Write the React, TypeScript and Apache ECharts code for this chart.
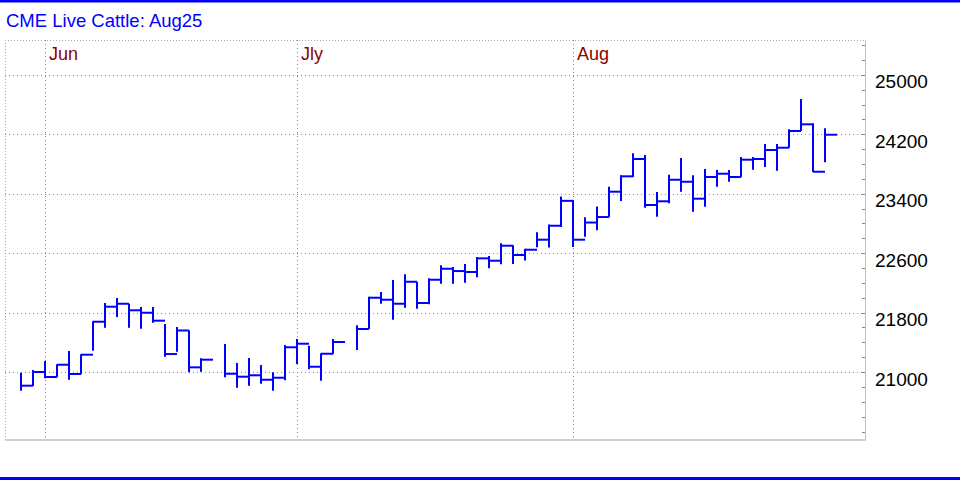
import React, { useEffect, useRef } from "react";
import * as echarts from "echarts";

// Trading-day slots (holidays kept as empty slots)
const dates = [
  "2025-05-28", "2025-05-29", "2025-05-30",
  "2025-06-02", "2025-06-03", "2025-06-04", "2025-06-05", "2025-06-06",
  "2025-06-09", "2025-06-10", "2025-06-11", "2025-06-12", "2025-06-13",
  "2025-06-16", "2025-06-17", "2025-06-18", "2025-06-19", "2025-06-20",
  "2025-06-23", "2025-06-24", "2025-06-25", "2025-06-26", "2025-06-27",
  "2025-06-30", "2025-07-01", "2025-07-02", "2025-07-03", "2025-07-04",
  "2025-07-07", "2025-07-08", "2025-07-09", "2025-07-10", "2025-07-11",
  "2025-07-14", "2025-07-15", "2025-07-16", "2025-07-17", "2025-07-18",
  "2025-07-21", "2025-07-22", "2025-07-23", "2025-07-24", "2025-07-25",
  "2025-07-28", "2025-07-29", "2025-07-30", "2025-07-31", "2025-08-01",
  "2025-08-04", "2025-08-05", "2025-08-06", "2025-08-07", "2025-08-08",
  "2025-08-11", "2025-08-12", "2025-08-13", "2025-08-14", "2025-08-15",
  "2025-08-18", "2025-08-19", "2025-08-20", "2025-08-21", "2025-08-22",
  "2025-08-25", "2025-08-26", "2025-08-27", "2025-08-28", "2025-08-29",
];

const highs = [
  20995, 21031, 21152, 21108, 21287, 21242, 21686, 21933, 22000, 21923,
  21879, 21879, 21650, 21610, 21565, 21188, null, 21381, 21125, 21192,
  21098, 21000, 21367, 21448, 21358, 21256, 21448, null, 21633, 22018,
  22081, 22242, 22319, 22219, 22265, 22440, 22417, 22458, 22552, 22565,
  22736, 22709, 22664, 22886, 22989, 23366, 23319, 23088, 23232, 23498,
  23652, 23948, 23925, 23427, 23660, 23884, 23652, 23736, 23723, 23723,
  23898, 23898, 24073, 24073, 24271, 24679, 24351, 24284,
];

const lows = [
  20752, 20816, 20919, 20933, 20900, 20973, 21291, 21600, 21744, 21600,
  21587, 21668, 21210, 21277, 21000, 21008, null, 20933, 20793, 20820,
  20847, 20752, 20892, 21112, 21040, 20887, 21246, null, 21300, 21583,
  21923, 21708, 21870, 21856, 21915, 22193, 22193, 22206, 22279, 22400,
  22454, 22458, 22505, 22683, 22680, 22956, 22687, 22825, 22911, 23086,
  23306, 23629, 23215, 23094, 23275, 23431, 23162, 23229, 23498, 23565,
  23625, 23727, 23763, 23714, 24023, 24248, 23696, 23827,
];

const closes = [
  20820, 21004, 20937, 21102, 20977, 21237, 21681, 21883, 21923, 21835,
  21802, 21695, 21246, 21563, 21067, 21170, null, 20981, 20941, 20960,
  20900, 20927, 21337, 21385, 21075, 21250, 21408, null, 21583, 22004,
  21977, 21923, 22219, 21933, 22246, 22394, 22363, 22350, 22534, 22502,
  22704, 22579, 22650, 22785, 22973, 23308, 22785, 23016, 23090, 23431,
  23638, 23871, 23252, 23302, 23592, 23565, 23337, 23629, 23673, 23629,
  23862, 23871, 23992, 24023, 24248, 24338, 23700, 24198,
];

// Month separators sit on the last trading slot of the previous month
const monthSlots = [2, 23, 46];
const monthNames = ["Jun", "Jly", "Aug"];

const yLabelValues = [21000, 21800, 22600, 23400, 24200, 25000];
const yMinorTicks = [
  20200, 20400, 20600, 20800, 21000, 21200, 21400, 21600, 21800, 22000,
  22200, 22400, 22600, 22800, 23000, 23200, 23400, 23600, 23800, 24000,
  24200, 24400, 24600, 24800, 25000, 25200, 25400,
];

const Y_MIN = 20089;
const Y_MAX = 25473;
const X_MIN = -4 / 3;
const X_MAX = 211 / 3;

const BLUE = "#0000ff";
const FONT = "'Liberation Sans', Arial, sans-serif";

export default function App() {
  const ref = useRef<HTMLDivElement>(null);

  useEffect(() => {
    if (!ref.current) return;
    const chart = echarts.init(ref.current, null, { renderer: "svg" });

    const data: number[][] = [];
    for (let i = 0; i < dates.length; i++) {
      if (highs[i] == null || lows[i] == null || closes[i] == null) continue;
      data.push([i, highs[i] as number, lows[i] as number, closes[i] as number]);
    }

    const option: any = {
      animation: false,
      backgroundColor: "#ffffff",
      title: {
        text: "CME Live Cattle: Aug25",
        left: 6,
        top: 10,
        padding: 0,
        textStyle: {
          color: BLUE,
          fontSize: 18.5,
          fontWeight: "normal",
          fontFamily: FONT,
          lineHeight: 20,
        },
      },
      grid: {
        left: 5,
        right: 95,
        top: 40,
        bottom: 40,
        containLabel: false,
        outerBoundsMode: "none",
      },
      xAxis: {
        type: "value",
        position: "top",
        min: X_MIN,
        max: X_MAX,
        axisLine: { show: false, onZero: false },
        axisTick: { show: false, customValues: monthSlots },
        axisLabel: {
          customValues: monthSlots,
          inside: true,
          margin: 13.5,
          align: "left",
          verticalAlign: "middle",
          padding: [0, 0, 0, 4],
          color: "#8b0000",
          fontSize: 18,
          fontFamily: FONT,
          formatter: (v: number) => {
            const k = monthSlots.indexOf(Math.round(v));
            return k >= 0 ? monthNames[k] : "";
          },
        },
        splitLine: {
          show: true,
          lineStyle: { color: "#888888", type: [1, 3], width: 1 },
        },
      },
      yAxis: [
        {
          type: "value",
          position: "right",
          min: Y_MIN,
          max: Y_MAX,
          axisLine: { show: true, onZero: false, lineStyle: { color: "#c0c0c0", width: 1 } },
          axisTick: { show: false, customValues: yLabelValues },
          axisLabel: {
            customValues: yLabelValues,
            margin: 10,
            color: "#000000",
            fontSize: 19,
            fontFamily: FONT,
            verticalAlign: "top",
            lineHeight: 13.4,
            showMinLabel: true,
            showMaxLabel: true,
            formatter: (v: number) => String(Math.round(v)),
          },
          splitLine: {
            show: true,
            lineStyle: { color: "#888888", type: [1, 3], width: 1 },
          },
        },
        {
          type: "value",
          position: "right",
          min: Y_MIN,
          max: Y_MAX,
          axisLine: { show: false, onZero: false },
          axisTick: {
            show: true,
            inside: true,
            length: 3,
            customValues: yMinorTicks,
            lineStyle: { color: "#888888", width: 1 },
          },
          axisLabel: { show: false },
          splitLine: { show: false },
        },
      ],
      series: [
        {
          type: "custom",
          name: "Live Cattle",
          xAxisIndex: 0,
          yAxisIndex: 0,
          data,
          renderItem: (params: any, api: any) => {
            const x = api.value(0);
            const hi = api.coord([x, api.value(1)]);
            const lo = api.coord([x, api.value(2)]);
            const cl = api.coord([x, api.value(3)]);
            const w = api.size([1, 0])[0];
            const style = { stroke: BLUE, lineWidth: 2, fill: null };
            return {
              type: "group",
              children: [
                {
                  type: "line",
                  shape: { x1: hi[0], y1: hi[1], x2: lo[0], y2: lo[1] },
                  style,
                },
                {
                  type: "line",
                  shape: { x1: cl[0], y1: cl[1], x2: cl[0] + w, y2: cl[1] },
                  style,
                },
              ],
            };
          },
        },
      ],
      graphic: [
        { type: "rect", shape: { x: 0, y: 0, width: 960, height: 2.5 }, style: { fill: BLUE }, silent: true },
        { type: "rect", shape: { x: 0, y: 477, width: 960, height: 3 }, style: { fill: BLUE }, silent: true },
        {
          type: "line",
          shape: { x1: 5, y1: 40.5, x2: 865, y2: 40.5 },
          style: { stroke: "#aaaaaa", lineWidth: 1, lineDash: [1, 2] },
          silent: true,
        },
        {
          type: "line",
          shape: { x1: 5.5, y1: 40, x2: 5.5, y2: 440 },
          style: { stroke: "#aaaaaa", lineWidth: 1, lineDash: [1, 2] },
          silent: true,
        },
        {
          type: "line",
          shape: { x1: 5, y1: 440, x2: 865.5, y2: 440 },
          style: { stroke: "#c0c0c0", lineWidth: 1.5 },
          silent: true,
        },
      ],
    };

    chart.setOption(option);
    return () => chart.dispose();
  }, []);

  return (
    <div
      ref={ref}
      style={{ position: "fixed", left: 0, top: 0, width: 960, height: 480, background: "#fff" }}
    />
  );
}
